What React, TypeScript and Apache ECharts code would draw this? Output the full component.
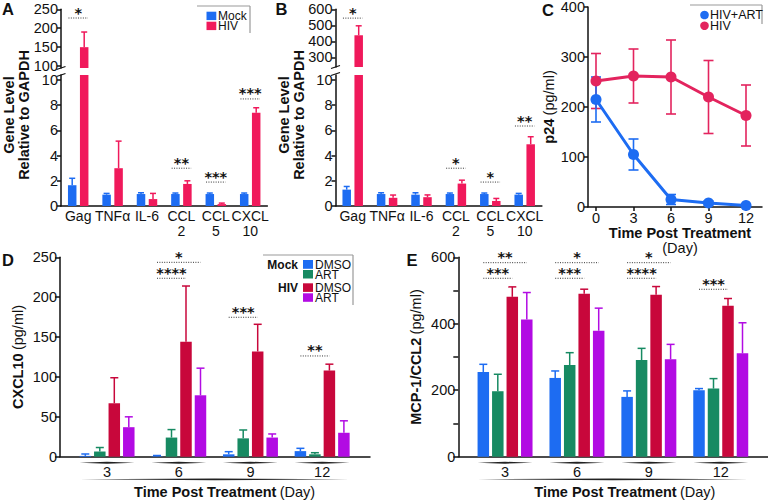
import React, { useEffect, useRef } from 'react';
import * as echarts from 'echarts';

const FONT = '"Liberation Sans", Arial, Helvetica, sans-serif';
const STAR_FONT = '"DejaVu Sans", "Liberation Sans", sans-serif';
const INK = '#111111';
const BLUE = '#1D6CF2';
const PINK = '#F0195B';
const GREEN = '#178A62';
const CRIMSON = '#C8073B';
const PURPLE = '#B20BE3';
const C_PINK = '#E3245E';

// ---------- Panels A and B ----------
const geneCats = ['Gag', 'TNFα', 'IL-6', 'CCL\n2', 'CCL\n5', 'CXCL\n10'];
const aMock = [1.65, 0.9, 0.95, 0.95, 0.95, 0.95];
const aMockErr = [0.55, 0.1, 0.1, 0.08, 0.08, 0.08];
const aHiv = [150, 3.0, 0.55, 1.75, 0.15, 7.4];
const aHivErr = [40, 2.15, 0.45, 0.25, 0.08, 0.4];
const bMock = [1.3, 0.95, 0.9, 0.95, 0.95, 0.9];
const bMockErr = [0.25, 0.1, 0.15, 0.08, 0.08, 0.1];
const bHiv = [438, 0.65, 0.7, 1.78, 0.4, 4.9];
const bHivErr = [59, 0.22, 0.18, 0.27, 0.2, 0.6];
const aUpperTicks = [100, 150, 200, 250];
const bUpperTicks = [300, 400, 500, 600];
const lowerTicks = [0, 2, 4, 6, 8, 10];
const aStarsUpper = [{ cat: 0, val: 227, text: '*', from: 0, to: 1 }];
const aStarsLower = [
  { cat: 3, val: 3.0, text: '**', from: 0, to: 1 },
  { cat: 4, val: 1.9, text: '***', from: 0, to: 1 },
  { cat: 5, val: 8.5, text: '***', from: 0, to: 1 },
];
const bStarsUpper = [{ cat: 0, val: 545, text: '*', from: 0, to: 1 }];
const bStarsLower = [
  { cat: 3, val: 3.0, text: '*', from: 0, to: 1 },
  { cat: 4, val: 1.9, text: '*', from: 0, to: 1 },
  { cat: 5, val: 6.35, text: '**', from: 0, to: 1 },
];

// ---------- Panel C ----------
const cDays = [0, 3, 6, 9, 12];
const cTicks = [0, 3, 6, 9, 12];
const artMean = [215, 105, 15, 8, 3];
const artErr = [45, 31, 10, 4, 2];
const hivMean = [252, 262, 260, 220, 183];
const hivErr = [55, 54, 74, 73, 61];

// ---------- Panels D and E ----------
const dayCats = ['3', '6', '9', '12'];
const dMockDmso = [1, 0.5, 3, 7];
const dMockDmsoErr = [2.4, 1, 3.3, 3.5];
const dMockArt = [6.5, 24, 23, 3];
const dMockArtErr = [5, 10, 10.5, 2];
const dHivDmso = [67, 144, 132, 108];
const dHivDmsoErr = [32, 70, 34, 8];
const dHivArt = [37, 77, 24, 30];
const dHivArtErr = [13, 34, 4.5, 15];
const dStars = [
  { cat: 1, val: 243.7, text: '*', from: 0, to: 3 },
  { cat: 1, val: 223.7, text: '****', from: 0, to: 2 },
  { cat: 2, val: 174.8, text: '***', from: 0, to: 2 },
  { cat: 3, val: 126.3, text: '**', from: 0, to: 2 },
];
const eMockDmso = [255, 237, 180, 200];
const eMockDmsoErr = [23, 21, 18, 5];
const eMockArt = [197, 276, 291, 205];
const eMockArtErr = [51, 37, 35, 30];
const eHivDmso = [481, 490, 487, 454];
const eHivDmsoErr = [30, 14, 25, 22];
const eHivArt = [413, 379, 293, 311];
const eHivArtErr = [81, 68, 45, 92];
const eStars = [
  { cat: 0, val: 583.8, text: '**', from: 0, to: 3 },
  { cat: 0, val: 536.9, text: '***', from: 0, to: 2 },
  { cat: 1, val: 583.8, text: '*', from: 0, to: 3 },
  { cat: 1, val: 536.9, text: '***', from: 0, to: 2 },
  { cat: 2, val: 583.8, text: '*', from: 0, to: 3 },
  { cat: 2, val: 536.9, text: '****', from: 0, to: 2 },
  { cat: 3, val: 503.8, text: '***', from: 0, to: 2 },
];

// ---------- helpers ----------
const AB_W = 8.5;
const AB_GAP = 3.5;
const DE_W = 11.5;
const DE_GAP = 3;

function barOffset(i: number, n: number, w: number, gap: number) {
  return (i - (n - 1) / 2) * (w + gap);
}

function barSeries(name: string, xi: number, yi: number, data: number[], color: string, w: number, gap: number) {
  return {
    type: 'bar', name, xAxisIndex: xi, yAxisIndex: yi, data, barWidth: w,
    barGap: Math.round((gap / w) * 100) + '%', clip: true, silent: true,
    itemStyle: { color }, z: 2,
  };
}

function errSeries(xi: number, yi: number, means: number[], errs: number[], i: number, n: number,
  w: number, gap: number, color: string, capW: number) {
  return {
    type: 'custom', xAxisIndex: xi, yAxisIndex: yi, z: 5, silent: true,
    data: means.map((m, k) => [k, m, errs[k]]),
    renderItem: (params: any, api: any) => {
      const k = api.value(0), m = api.value(1), e = api.value(2);
      const p0 = api.coord([k, m]);
      const p1 = api.coord([k, m + e]);
      const cs = params.coordSys;
      const top = cs.y, bot = cs.y + cs.height;
      if (p0[1] < top - 0.5 || p1[1] > bot) return null;
      const x = p0[0] + barOffset(i, n, w, gap);
      const y0 = Math.min(p0[1], bot);
      const st = { stroke: color, lineWidth: 1.5 };
      return {
        type: 'group', children: [
          { type: 'line', shape: { x1: x, y1: y0, x2: x, y2: p1[1] }, style: st },
          { type: 'line', shape: { x1: x - capW / 2, y1: p1[1], x2: x + capW / 2, y2: p1[1] }, style: st },
        ],
      };
    },
  };
}

function starSeries(xi: number, yi: number, stars: any[], n: number, w: number, gap: number, ext: number) {
  return {
    type: 'custom', xAxisIndex: xi, yAxisIndex: yi, z: 6, silent: true,
    data: stars.map((s) => [s.cat, s.val]),
    renderItem: (params: any, api: any) => {
      const s = stars[params.dataIndex];
      const p = api.coord([api.value(0), api.value(1)]);
      const x1 = p[0] + barOffset(s.from, n, w, gap) - ext;
      const x2 = p[0] + barOffset(s.to, n, w, gap) + ext;
      return {
        type: 'group', children: [
          { type: 'line', shape: { x1, y1: p[1], x2, y2: p[1] }, style: { stroke: '#333', lineWidth: 1, lineDash: [1, 1.4] } },
          {
            type: 'text', x: (x1 + x2) / 2, y: p[1] - 5.5,
            style: { text: s.text, fill: INK, fontSize: 14.5, fontWeight: 'bold', fontFamily: STAR_FONT, align: 'center', verticalAlign: 'middle' },
          },
        ],
      };
    },
  };
}

function lens(x1: number, x2: number, y: number, t: number) {
  const xm = (x1 + x2) / 2;
  return { type: 'polygon', shape: { points: [[x1, y], [xm, y - t], [x2, y], [xm, y + t]] }, style: { fill: '#222' } };
}

function dayLabelSeries(xi: number, yi: number, halfW: number) {
  return {
    type: 'custom', xAxisIndex: xi, yAxisIndex: yi, z: 6, silent: true,
    data: dayCats.map((_, i) => [i, 0]),
    renderItem: (params: any, api: any) => {
      const i = api.value(0);
      const p = api.coord([i, 0]);
      const band = api.size([1, 0])[0];
      const children: any[] = [
        lens(p[0] - halfW, p[0] + halfW, p[1] + 6, 1),
        {
          type: 'text', x: p[0], y: p[1] + 15.5,
          style: { text: dayCats[i], fill: INK, fontSize: 14.5, fontFamily: FONT, align: 'center', verticalAlign: 'middle' },
        },
      ];
      if (i === 0) children.push(lens(p[0] - halfW, p[0] + band * (dayCats.length - 1) + halfW, p[1] + 22.6, 0.9));
      return { type: 'group', children };
    },
  };
}

function cErrSeries(means: number[], errs: number[], color: string) {
  return {
    type: 'custom', xAxisIndex: 4, yAxisIndex: 4, z: 3, silent: true,
    data: cDays.map((d, i) => [d, means[i], errs[i]]),
    renderItem: (params: any, api: any) => {
      const x = api.value(0), m = api.value(1), e = api.value(2);
      const lo = api.coord([x, Math.max(m - e, 0)]);
      const hi = api.coord([x, m + e]);
      const cw = 5;
      const st = { stroke: color, lineWidth: 1.6 };
      return {
        type: 'group', children: [
          { type: 'line', shape: { x1: lo[0], y1: lo[1], x2: hi[0], y2: hi[1] }, style: st },
          { type: 'line', shape: { x1: hi[0] - cw, y1: hi[1], x2: hi[0] + cw, y2: hi[1] }, style: st },
          { type: 'line', shape: { x1: lo[0] - cw, y1: lo[1], x2: lo[0] + cw, y2: lo[1] }, style: st },
        ],
      };
    },
  };
}

const axLine = { show: true, onZero: false, lineStyle: { color: INK, width: 1.5 } };
const noLine = { show: false };
const tickOn = (extra: any = {}) => ({ show: true, length: 4, inside: false, lineStyle: { color: INK, width: 1.5 }, ...extra });
const lbl = (extra: any = {}) => ({ show: true, color: INK, fontSize: 14.5, fontFamily: FONT, margin: 3, ...extra });

function gridBox(left: number, top: number, width: number, height: number) {
  return { left, top, width, height, containLabel: false, outerBoundsMode: 'none' };
}

const TITLE_SIZE = 14.5;

function buildOption() {
  const grids = [
    gridBox(61, 9.3, 206.4, 58.7), // 0 A upper
    gridBox(61, 75, 206.4, 131), // 1 A lower
    gridBox(335.5, 9.3, 206.4, 57.7), // 2 B upper
    gridBox(335.5, 75, 206.4, 131), // 3 B lower
    gridBox(588, 7, 174, 200), // 4 C
    gridBox(71.2, 257.3, 286.8, 199.4), // 5 D
    gridBox(60, 257.3, 310, 199.4), // 6 D axis line
    gridBox(469.1, 257.3, 287.6, 199.4), // 7 E
    gridBox(458.3, 257.3, 309.5, 199.4), // 8 E axis line
  ];

  const hiddenCat = (g: number, data: string[]) => ({ type: 'category', gridIndex: g, data, show: false });
  const geneX = (g: number) => ({
    type: 'category', gridIndex: g, data: geneCats,
    axisLine: axLine, axisTick: { show: false }, splitLine: { show: false },
    axisLabel: lbl({ interval: 0, lineHeight: 15, margin: 2, fontSize: 14 }),
  });
  const dayX = (g: number, nameShift: number) => ({
    type: 'category', gridIndex: g, data: dayCats,
    axisLine: noLine, axisTick: { show: false }, axisLabel: { show: false }, splitLine: { show: false },
    name: '{b|Time Post Treatment} {r|(Day)}', nameLocation: 'middle', nameGap: 28,
    nameTextStyle: {
      padding: [0, 0, 0, nameShift],
      rich: {
        b: { fontWeight: 'bold', fontSize: TITLE_SIZE, fontFamily: FONT, color: INK },
        r: { fontSize: TITLE_SIZE, fontFamily: FONT, color: INK },
      },
    },
  });
  const lineOnlyX = (g: number) => ({
    type: 'value', gridIndex: g, min: 0, max: 1,
    axisLine: axLine, axisTick: { show: false }, axisLabel: { show: false }, splitLine: { show: false },
  });
  const hiddenY = (g: number) => ({ type: 'value', gridIndex: g, min: 0, max: 1, show: false });

  const xAxis = [
    hiddenCat(0, geneCats),
    geneX(1),
    hiddenCat(2, geneCats),
    geneX(3),
    {
      type: 'value', gridIndex: 4, min: -0.64, max: 13.28,
      axisLine: axLine, axisTick: tickOn({ customValues: cTicks }),
      axisLabel: lbl({ customValues: cTicks, margin: 3 }), splitLine: { show: false },
      name: '{b|Time Post Treatment}\n{r|(Day)}', nameLocation: 'middle', nameGap: 17,
      nameTextStyle: {
        lineHeight: 15, padding: [0, 0, 0, 10],
        rich: {
          b: { fontWeight: 'bold', fontSize: TITLE_SIZE, fontFamily: FONT, color: INK, lineHeight: 15 },
          r: { fontSize: TITLE_SIZE, fontFamily: FONT, color: INK, lineHeight: 15 },
        },
      },
    },
    dayX(5, 20),
    lineOnlyX(6),
    dayX(7, 24),
    lineOnlyX(8),
  ];

  const yName = (bold: string, reg: string, gap: number) => ({
    name: `{b|${bold}} {r|${reg}}`, nameLocation: 'middle', nameGap: gap,
    nameTextStyle: {
      rich: {
        b: { fontWeight: 'bold', fontSize: 14.5, fontFamily: FONT, color: INK },
        r: { fontSize: 14.5, fontFamily: FONT, color: INK },
      },
    },
  });

  const yAxis = [
    {
      type: 'value', gridIndex: 0, min: 95, max: 250, axisLine: axLine, splitLine: { show: false },
      axisTick: tickOn({ customValues: aUpperTicks }), axisLabel: lbl({ customValues: aUpperTicks }),
    },
    {
      type: 'value', gridIndex: 1, min: 0, max: 10.4, axisLine: axLine, splitLine: { show: false },
      axisTick: tickOn({ customValues: lowerTicks }), axisLabel: lbl({ customValues: lowerTicks }),
    },
    {
      type: 'value', gridIndex: 2, min: 240, max: 600, axisLine: axLine, splitLine: { show: false },
      axisTick: tickOn({ customValues: bUpperTicks }), axisLabel: lbl({ customValues: bUpperTicks }),
    },
    {
      type: 'value', gridIndex: 3, min: 0, max: 10.4, axisLine: axLine, splitLine: { show: false },
      axisTick: tickOn({ customValues: lowerTicks }), axisLabel: lbl({ customValues: lowerTicks }),
    },
    {
      type: 'value', gridIndex: 4, min: 0, max: 400, interval: 100, axisLine: axLine, splitLine: { show: false },
      axisTick: tickOn(), axisLabel: lbl(), ...yName('p24', '(pg/ml)', 27),
    },
    {
      type: 'value', gridIndex: 5, min: 0, max: 250, interval: 50, offset: 11.2, axisLine: axLine, splitLine: { show: false },
      axisTick: tickOn({ length: 5 }), axisLabel: lbl(), ...yName('CXCL10', '(pg/ml)', 35),
    },
    hiddenY(6),
    {
      type: 'value', gridIndex: 7, min: 0, max: 600, interval: 100, offset: 10.8, axisLine: axLine, splitLine: { show: false },
      axisTick: tickOn({ length: 5 }),
      axisLabel: lbl({ formatter: (v: number) => (v % 200 === 0 ? String(v) : '') }),
      ...yName('MCP-1/CCL2', '(pg/ml)', 35),
    },
    hiddenY(8),
  ];

  const series: any[] = [];
  // A
  [[0, 0], [1, 1]].forEach(([xi, yi]) => {
    series.push(barSeries('Mock', xi, yi, aMock, BLUE, AB_W, AB_GAP));
    series.push(barSeries('HIV', xi, yi, aHiv, PINK, AB_W, AB_GAP));
    series.push(errSeries(xi, yi, aMock, aMockErr, 0, 2, AB_W, AB_GAP, BLUE, 6));
    series.push(errSeries(xi, yi, aHiv, aHivErr, 1, 2, AB_W, AB_GAP, PINK, 6));
  });
  series.push(starSeries(0, 0, aStarsUpper, 2, AB_W, AB_GAP, AB_W / 2 - 0.5));
  series.push(starSeries(1, 1, aStarsLower, 2, AB_W, AB_GAP, AB_W / 2 - 0.5));
  // B
  [[2, 2], [3, 3]].forEach(([xi, yi]) => {
    series.push(barSeries('Mock', xi, yi, bMock, BLUE, AB_W, AB_GAP));
    series.push(barSeries('HIV', xi, yi, bHiv, PINK, AB_W, AB_GAP));
    series.push(errSeries(xi, yi, bMock, bMockErr, 0, 2, AB_W, AB_GAP, BLUE, 6));
    series.push(errSeries(xi, yi, bHiv, bHivErr, 1, 2, AB_W, AB_GAP, PINK, 6));
  });
  series.push(starSeries(2, 2, bStarsUpper, 2, AB_W, AB_GAP, AB_W / 2 - 0.5));
  series.push(starSeries(3, 3, bStarsLower, 2, AB_W, AB_GAP, AB_W / 2 - 0.5));
  // C
  series.push(cErrSeries(hivMean, hivErr, C_PINK));
  series.push(cErrSeries(artMean, artErr, BLUE));
  series.push({
    type: 'line', name: 'HIV', xAxisIndex: 4, yAxisIndex: 4, z: 4, silent: true,
    data: cDays.map((d, i) => [d, hivMean[i]]), symbol: 'circle', symbolSize: 11,
    itemStyle: { color: C_PINK }, lineStyle: { color: C_PINK, width: 3 },
  });
  series.push({
    type: 'line', name: 'HIV+ART', xAxisIndex: 4, yAxisIndex: 4, z: 4, silent: true,
    data: cDays.map((d, i) => [d, artMean[i]]), symbol: 'circle', symbolSize: 11,
    itemStyle: { color: BLUE }, lineStyle: { color: BLUE, width: 3 },
  });
  // D
  const dSets: [string, number[], number[], string][] = [
    ['Mock DMSO', dMockDmso, dMockDmsoErr, BLUE],
    ['Mock ART', dMockArt, dMockArtErr, GREEN],
    ['HIV DMSO', dHivDmso, dHivDmsoErr, CRIMSON],
    ['HIV ART', dHivArt, dHivArtErr, PURPLE],
  ];
  dSets.forEach(([name, vals, errs, color], i) => {
    series.push(barSeries(name, 5, 5, vals, color, DE_W, DE_GAP));
    series.push(errSeries(5, 5, vals, errs, i, 4, DE_W, DE_GAP, color, 8));
  });
  series.push(starSeries(5, 5, dStars, 4, DE_W, DE_GAP, 0));
  series.push(dayLabelSeries(5, 5, 27.5));
  // E
  const eSets: [string, number[], number[], string][] = [
    ['Mock DMSO', eMockDmso, eMockDmsoErr, BLUE],
    ['Mock ART', eMockArt, eMockArtErr, GREEN],
    ['HIV DMSO', eHivDmso, eHivDmsoErr, CRIMSON],
    ['HIV ART', eHivArt, eHivArtErr, PURPLE],
  ];
  eSets.forEach(([name, vals, errs, color], i) => {
    series.push(barSeries(name, 7, 7, vals, color, DE_W, DE_GAP));
    series.push(errSeries(7, 7, vals, errs, i, 4, DE_W, DE_GAP, color, 8));
  });
  series.push(starSeries(7, 7, eStars, 4, DE_W, DE_GAP, 0));
  series.push(dayLabelSeries(7, 7, 27.5));

  const txt = (x: number, y: number, text: string, size: number, bold: boolean, align = 'left', extra: any = {}) => ({
    type: 'text', x, y, silent: true,
    style: { text, fill: INK, fontSize: size, fontWeight: bold ? 'bold' : 'normal', fontFamily: FONT, align, verticalAlign: 'middle', ...extra },
  });
  const gl = (x1: number, y1: number, x2: number, y2: number, color = '#999', w = 1.2) => ({
    type: 'line', silent: true, shape: { x1, y1, x2, y2 }, style: { stroke: color, lineWidth: w },
  });
  const sq = (x: number, y: number, w: number, h: number, color: string) => ({
    type: 'rect', silent: true, shape: { x, y, width: w, height: h }, style: { fill: color },
  });
  const dot = (cx: number, cy: number, r: number, color: string) => ({
    type: 'circle', silent: true, shape: { cx, cy, r }, style: { fill: color },
  });

  const yTitleA = txt(16, 115, 'Gene Level\nRelative to GAPDH', 14.5, true, 'center', { lineHeight: 15 });
  const yTitleB = txt(291, 115, 'Gene Level\nRelative to GAPDH', 14.5, true, 'center', { lineHeight: 15 });
  (yTitleA as any).rotation = Math.PI / 2;
  (yTitleB as any).rotation = Math.PI / 2;

  const graphic: any[] = [
    // panel letters
    txt(2, 9, 'A', 16.5, true), txt(275.5, 9, 'B', 16.5, true), txt(542, 9.5, 'C', 16.5, true),
    txt(2, 260, 'D', 16.5, true), txt(406.5, 260, 'E', 16.5, true),
    yTitleA, yTitleB,
    // axis breaks A
    gl(56.5, 69.5, 65.5, 66.5, INK, 1.3), gl(56.5, 76.5, 65.5, 73.5, INK, 1.3),
    // axis breaks B
    gl(331, 68.5, 340, 65.5, INK, 1.3), gl(331, 75.5, 340, 72.5, INK, 1.3),
    // legend A
    gl(197, 6, 250, 6), gl(250, 6, 250, 33),
    sq(206.5, 11.7, 9.8, 8.4, BLUE), sq(206.5, 21.7, 9.8, 8.4, PINK),
    txt(218, 21, 'Mock\nHIV', 12, false, 'left', { lineHeight: 10 }),
    // legend C
    gl(690, 5, 762, 5), gl(762, 5, 762, 24),
    dot(704.5, 15, 4.3, BLUE), dot(704.5, 25.7, 4.3, C_PINK),
    txt(710, 20.5, 'HIV+ART\nHIV', 12.5, false, 'left', { lineHeight: 11 }),
    // legend D
    gl(263, 255, 353, 255), gl(353, 255, 353, 305),
    txt(298, 264.5, 'Mock', 12, true, 'right'), txt(298, 287.7, 'HIV', 12, true, 'right'),
    sq(303, 260, 10, 8.8, BLUE), sq(303, 270, 10, 8.5, GREEN),
    sq(303, 283.3, 10, 8.6, CRIMSON), sq(303, 293.3, 10, 8.5, PURPLE),
    txt(315, 269.5, 'DMSO\nART', 12, false, 'left', { lineHeight: 10 }),
    txt(315, 292.6, 'DMSO\nART', 12, false, 'left', { lineHeight: 10 }),
  ];

  return {
    animation: false,
    backgroundColor: '#ffffff',
    textStyle: { fontFamily: FONT, color: INK },
    grid: grids,
    xAxis,
    yAxis,
    series,
    graphic,
  };
}

export default function App() {
  const ref = useRef<HTMLDivElement>(null);
  useEffect(() => {
    const chart = echarts.init(ref.current!, undefined, { renderer: 'svg' });
    chart.setOption(buildOption() as any);
    return () => chart.dispose();
  }, []);
  return <div ref={ref} style={{ position: 'absolute', left: 0, top: 0, width: 768, height: 501 }} />;
}
